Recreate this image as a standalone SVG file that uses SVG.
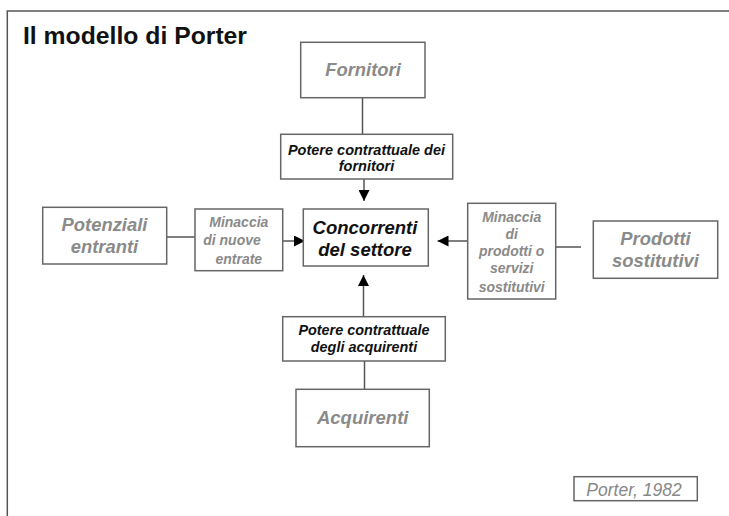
<svg xmlns="http://www.w3.org/2000/svg" width="729" height="516" viewBox="0 0 729 516">
<style>
.box{fill:#fff;stroke:#666;stroke-width:1.5}
.g{font-family:"Liberation Sans",Arial,sans-serif;font-weight:bold;font-style:italic;fill:#8a8a8a;text-anchor:middle}
.k{font-family:"Liberation Sans",Arial,sans-serif;font-weight:bold;font-style:italic;fill:#111;text-anchor:middle}
.ln{stroke:#555;stroke-width:1.5;fill:none}
</style>
<defs>
<marker id="ah" viewBox="0 0 10 10" refX="10" refY="5" markerWidth="11" markerHeight="11" markerUnits="userSpaceOnUse" orient="auto">
<path d="M0,0 L10,5 L0,10 Z" fill="#000"/>
</marker>
</defs>
<rect width="729" height="516" fill="#fff"/>
<path d="M7.3,516 L7.3,11 L729,11" fill="none" stroke="#555" stroke-width="1.5"/>
<text x="23" y="44" font-family="Liberation Sans,Arial,sans-serif" font-weight="bold" font-size="24" fill="#111" textLength="224" lengthAdjust="spacingAndGlyphs">Il modello di Porter</text>

<g id="connectors">
<line class="ln" x1="362.5" y1="98" x2="362.5" y2="134"/>
<line class="ln" x1="364" y1="179" x2="364" y2="201" stroke="#000" marker-end="url(#ah)"/>
<line class="ln" x1="167" y1="237" x2="195" y2="237"/>
<line class="ln" x1="283" y1="241" x2="305" y2="241" stroke="#000" marker-end="url(#ah)"/>
<line class="ln" x1="467.7" y1="241" x2="437.5" y2="241" stroke="#000" marker-end="url(#ah)"/>
<line class="ln" x1="555.7" y1="247" x2="581" y2="247"/>
<line class="ln" x1="363.5" y1="316.7" x2="363.5" y2="275" stroke="#000" marker-end="url(#ah)"/>
<line class="ln" x1="364.5" y1="361" x2="364.5" y2="389"/>
</g>

<g id="fornitori">
<rect class="box" x="300.7" y="42.3" width="124.3" height="55.4"/>
<text class="g" x="363" y="75.7" font-size="18.4">Fornitori</text>
</g>
<g id="potere-fornitori">
<rect class="box" x="280.7" y="134.3" width="172" height="44.7"/>
<text class="k" x="366.5" y="155" font-size="14.5">Potere contrattuale dei</text>
<text class="k" x="366.5" y="170.5" font-size="14.5">fornitori</text>
</g>
<g id="concorrenti">
<rect class="box" x="303.3" y="209" width="125" height="57"/>
<text class="k" x="365" y="234.3" font-size="18.5">Concorrenti</text>
<text class="k" x="365" y="255.7" font-size="18.5">del settore</text>
</g>
<g id="potenziali">
<rect class="box" x="42.7" y="207.3" width="124" height="56.7"/>
<text class="g" x="104.5" y="230.7" font-size="18.4">Potenziali</text>
<text class="g" x="104.5" y="252.7" font-size="18.4">entranti</text>
</g>
<g id="minaccia-entrate">
<rect class="box" x="195" y="209" width="87.7" height="61.7"/>
<text class="g" x="238.8" y="226.7" font-size="14">Minaccia</text>
<text class="g" x="232" y="245" font-size="14">di nuove</text>
<text class="g" x="238.8" y="264" font-size="14">entrate</text>
</g>
<g id="minaccia-sostitutivi">
<rect class="box" x="467.7" y="203.3" width="88" height="95.7"/>
<text class="g" x="511.7" y="221.7" font-size="14">Minaccia</text>
<text class="g" x="511.7" y="238.5" font-size="14">di</text>
<text class="g" x="511.7" y="255.5" font-size="14">prodotti o</text>
<text class="g" x="511.7" y="273" font-size="14">servizi</text>
<text class="g" x="511.7" y="291.5" font-size="14">sostitutivi</text>
</g>
<g id="prodotti">
<rect class="box" x="593.3" y="221" width="124.4" height="57.3"/>
<text class="g" x="655.5" y="245" font-size="18.4">Prodotti</text>
<text class="g" x="655.5" y="266.7" font-size="18.4">sostitutivi</text>
</g>
<g id="potere-acquirenti">
<rect class="box" x="282.7" y="316.7" width="162.6" height="44.3"/>
<text class="k" x="364" y="335" font-size="14.4">Potere contrattuale</text>
<text class="k" x="364" y="352.3" font-size="14.4">degli acquirenti</text>
</g>
<g id="acquirenti">
<rect class="box" x="296" y="389.3" width="133.3" height="57.4"/>
<text class="g" x="362.7" y="424.3" font-size="18.5">Acquirenti</text>
</g>
<g id="fonte">
<rect class="box" x="574" y="476.7" width="123.3" height="24"/>
<text x="634" y="496" font-family="Liberation Sans,Arial,sans-serif" font-style="italic" font-size="17.5" fill="#888" text-anchor="middle">Porter, 1982</text>
</g>
</svg>
